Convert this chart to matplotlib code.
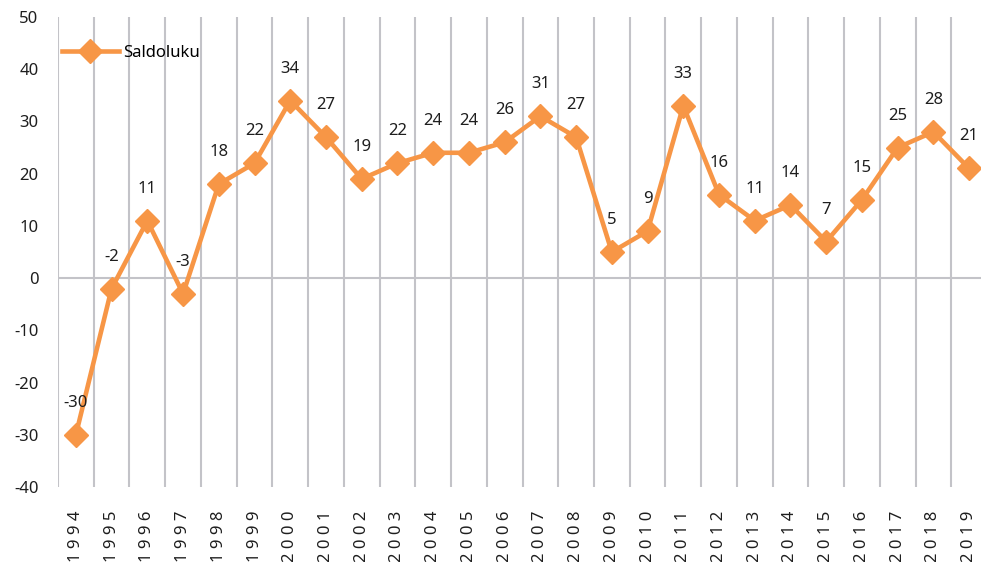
import numpy as np
import matplotlib.pyplot as plt

plt.rcParams['font.family'] = ['Noto Sans', 'DejaVu Sans']
plt.rcParams['axes.unicode_minus'] = False

# Vuodet ja saldoluvut
years = list(range(1994, 2020))
saldo = [-30, -2, 11, -3, 18, 22, 34, 27, 19, 22, 24, 24, 26, 31, 27,
         5, 9, 33, 16, 11, 14, 7, 15, 25, 28, 21]
year_labels = [" ".join(str(y)) for y in years]

orange = '#F79646'
grid_col = '#C3C3C8'
text_col = '#1E1E1E'
fs = 12

fig = plt.figure(figsize=(9.81, 5.62), dpi=100)
ax = fig.add_axes([58 / 981, 1 - 487 / 562, 929 / 981, 470 / 562])

x = np.arange(len(years))

# Pystyviivat vuosien väleihin ja nollaviiva
for b in np.arange(-0.5, len(years), 1.0):
    ax.axvline(b, color=grid_col, lw=1.5, zorder=1)
ax.axhline(0, color=grid_col, lw=1.5, zorder=1)

ax.plot(x, saldo, color=orange, lw=3.3, marker='D', markersize=12,
        label='Saldoluku', zorder=3)

for xi, v in zip(x, saldo):
    ax.annotate(str(v), (xi, v), xytext=(0, 23), textcoords='offset points',
                ha='center', va='center', fontsize=fs, color=text_col)

ax.set_xlim(-0.5, len(years) - 0.5)
ax.set_ylim(-40, 50)
ax.set_yticks(range(-40, 51, 10))
ax.set_xticks(x)
ax.set_xticklabels(year_labels, rotation=90, va='top', fontsize=12.5)
ax.tick_params(axis='both', length=0, labelsize=fs, labelcolor=text_col)
ax.tick_params(axis='y', pad=14)
ax.tick_params(axis='x', pad=17)
for s in ax.spines.values():
    s.set_visible(False)

ax.legend(loc='upper left', bbox_to_anchor=(-0.012, 0.972), frameon=False,
          fontsize=fs, handlelength=3.4, handletextpad=0.3)

fig.savefig('out.png', dpi=100)
